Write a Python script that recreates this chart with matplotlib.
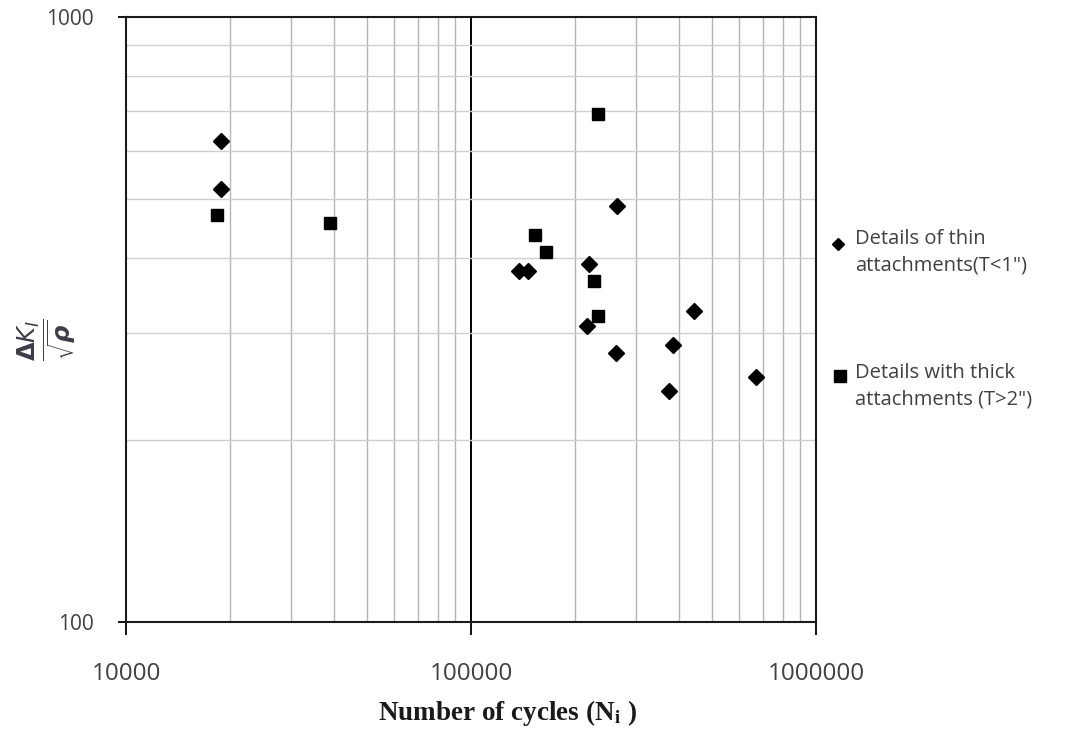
import numpy as np
import matplotlib.pyplot as plt
from matplotlib.lines import Line2D
from matplotlib.ticker import LogLocator, FixedLocator, NullFormatter

# cycles to failure and normalised stress intensity range
thin_N = [18800, 18800, 137700, 146000, 217400, 220300, 262700, 265600,
          375700, 385900, 442200, 668600]
thin_k = [623, 520, 380, 380, 308, 390, 278, 488, 241, 287, 327, 254]

thick_N = [18400, 39000, 153600, 165300, 227800, 232900, 232900]
thick_k = [471, 457, 437, 409, 366, 692, 321]

x_ticks = [10000, 100000, 1000000]
y_ticks = [100, 1000]

thin_label = 'Details of thin\nattachments(T<1")'
thick_label = 'Details with thick\nattachments (T>2")'

txt_col = '#404040'

fig = plt.figure(figsize=(10.68, 7.29), dpi=100)
ax = fig.add_axes([126 / 1068, 1 - 622 / 729, 690 / 1068, 605 / 729])

ax.set_xscale('log')
ax.set_yscale('log')
ax.set_xlim(1e4, 1e6)
ax.set_ylim(100, 1000)

# minor grid
ax.xaxis.set_minor_locator(LogLocator(base=10, subs=np.arange(2, 10)))
ax.yaxis.set_minor_locator(LogLocator(base=10, subs=np.arange(2, 10)))
ax.xaxis.set_minor_formatter(NullFormatter())
ax.yaxis.set_minor_formatter(NullFormatter())
ax.grid(which='minor', axis='x', color='#b4b4b4', lw=1.0)
ax.grid(which='minor', axis='y', color='#cfcfcf', lw=1.0)
ax.grid(which='major', axis='x', color='black', lw=1.4)
ax.set_axisbelow(True)

ax.xaxis.set_major_locator(FixedLocator(x_ticks))
ax.yaxis.set_major_locator(FixedLocator(y_ticks))
ax.set_xticklabels([str(v) for v in x_ticks])
ax.set_yticklabels([str(v) for v in y_ticks])

ax.tick_params(axis='x', which='major', length=9, width=1.3, pad=20,
               labelsize=17.5, labelcolor=txt_col, direction='out')
ax.tick_params(axis='y', which='major', length=6, width=1.3, pad=17,
               labelsize=15, labelcolor=txt_col, direction='out')
ax.tick_params(which='minor', length=0)
for lab in ax.get_xticklabels() + ax.get_yticklabels():
    lab.set_family('Open Sans')

for s in ax.spines.values():
    s.set_color('#1a1a1a')
    s.set_linewidth(1.5)

ax.plot(thin_N, thin_k, linestyle='none', marker='D', ms=7.8,
        color='black', clip_on=False)
ax.plot(thick_N, thick_k, linestyle='none', marker='s', ms=9.2,
        color='black', clip_on=False)

# axis titles
fig.text(508 / 1068, 1 - 720 / 729, r'Number of cycles (N$_\mathbf{i}$ )',
         ha='center', va='baseline', fontsize=19.5, fontweight='bold',
         family='Liberation Serif', math_fontfamily='stix', color='#1a1a1a')
fig.text(47 / 1068, 1 - 340 / 729,
         r'$\dfrac{\boldsymbol{\Delta K_I}}{\sqrt{\boldsymbol{\rho}}}$',
         rotation=90, ha='center', va='center', fontsize=17.5, color='#3c3c46')

# legend, markers sit beside the first text line
fig.add_artist(Line2D([838 / 1068], [1 - 244 / 729], marker='D', ms=6,
                      color='black', transform=fig.transFigure))
fig.add_artist(Line2D([840 / 1068], [1 - 376 / 729], marker='s', ms=8,
                      color='black', transform=fig.transFigure))
fig.text(855 / 1068, 1 - 229 / 729, thin_label, ha='left', va='top',
         fontsize=14.5, family='Open Sans', color=txt_col, linespacing=1.45)
fig.text(855 / 1068, 1 - 363 / 729, thick_label, ha='left', va='top',
         fontsize=14.5, family='Open Sans', color=txt_col, linespacing=1.45)

fig.savefig('out.png', dpi=100)
